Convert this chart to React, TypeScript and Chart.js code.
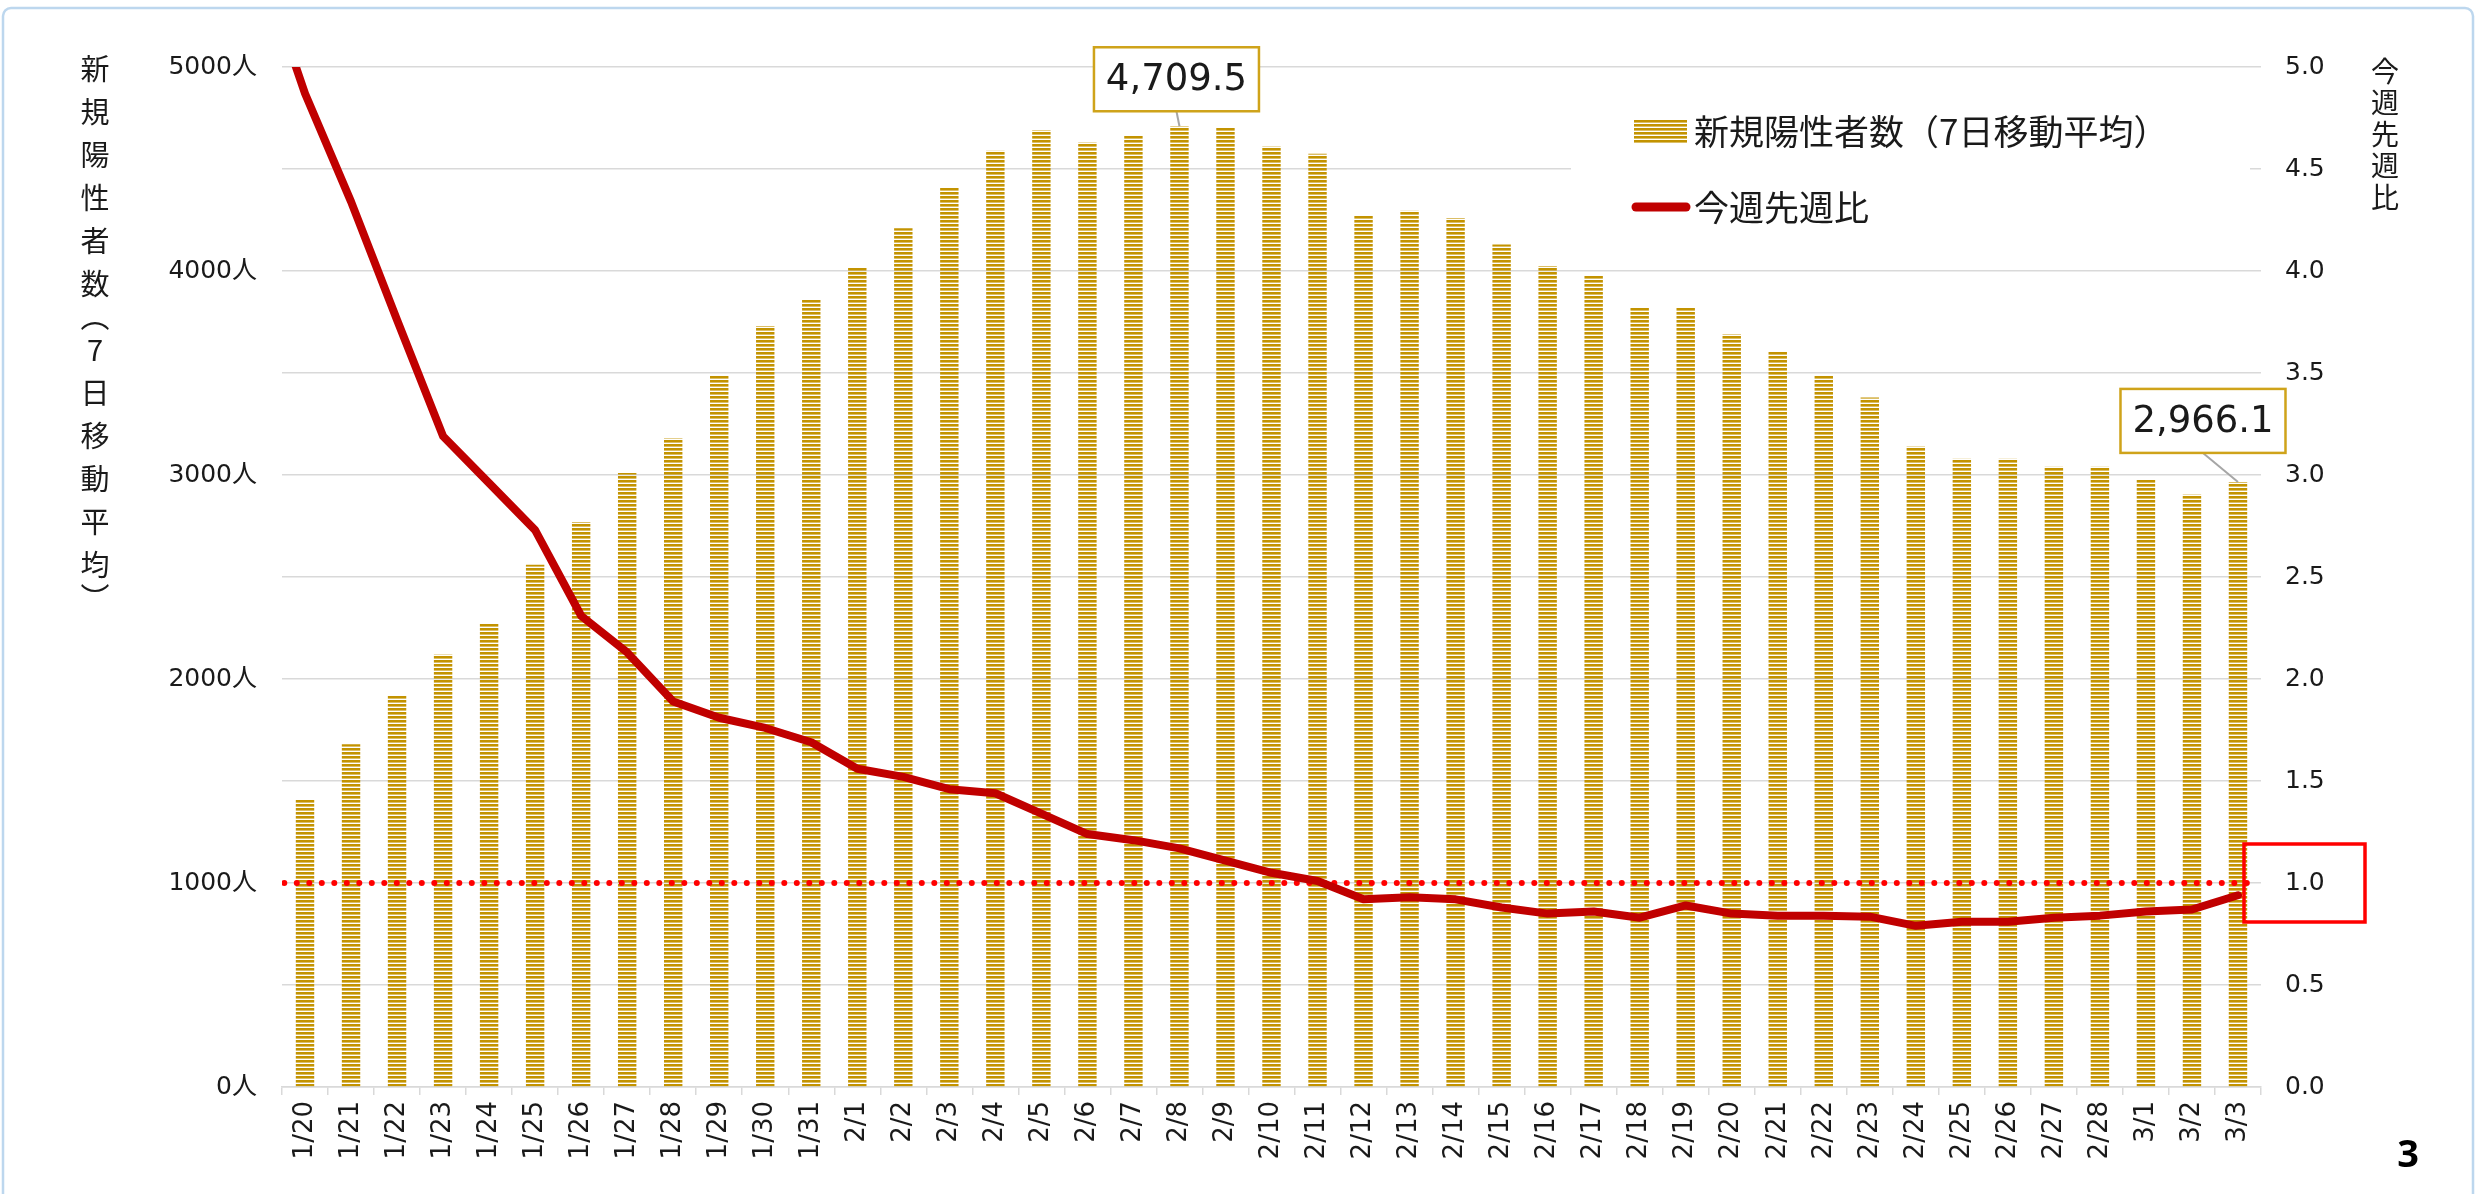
import React, { useEffect, useRef } from 'react';
import { Chart, registerables } from 'chart.js';

Chart.register(...registerables);

// ---- data ----
const dates = [
  '1/20', '1/21', '1/22', '1/23', '1/24', '1/25', '1/26', '1/27', '1/28', '1/29', '1/30', '1/31',
  '2/1', '2/2', '2/3', '2/4', '2/5', '2/6', '2/7', '2/8', '2/9', '2/10', '2/11', '2/12', '2/13', '2/14',
  '2/15', '2/16', '2/17', '2/18', '2/19', '2/20', '2/21', '2/22', '2/23', '2/24', '2/25', '2/26', '2/27', '2/28',
  '3/1', '3/2', '3/3',
];

// 新規陽性者数（7日移動平均）
const newCases = [
  1410, 1680, 1920, 2120, 2270, 2560, 2770, 3010, 3180, 3490, 3730, 3860,
  4020, 4210, 4410, 4590, 4690, 4630, 4665, 4709.5, 4705, 4610, 4575, 4270, 4295, 4260,
  4130, 4025, 3975, 3820, 3820, 3690, 3605, 3490, 3380, 3140, 3080, 3080, 3040, 3040,
  2975, 2905, 2966.1,
];

// 今週先週比
const weekRatio = [
  4.87, 4.34, 3.76, 3.19, 2.96, 2.73, 2.31, 2.13, 1.89, 1.81, 1.76, 1.69,
  1.56, 1.52, 1.46, 1.44, 1.34, 1.24, 1.21, 1.17, 1.11, 1.05, 1.01, 0.92, 0.93, 0.92,
  0.88, 0.85, 0.86, 0.83, 0.89, 0.85, 0.84, 0.84, 0.835, 0.79, 0.81, 0.81, 0.83, 0.84,
  0.86, 0.87, 0.94,
];

// ratio of the day before the first category (line enters the plot from above)
const ratioBeforeStart = 5.53;
const referenceRatio = 1.0;

const annotatedDates = ['2/8', '3/3'];

const leftAxisTitle = '新規陽性者数︵7日移動平均︶';
const rightAxisTitle = '今週先週比';
const legendBars = '新規陽性者数（7日移動平均）';
const legendLine = '今週先週比';
const pageNumber = '3';

const GOLD = '#C39300';
const LINE_RED = '#C00000';
const TEXT = '#1a1a1a';
const NUM_FONT = "'DejaVu Sans', 'Noto Sans CJK JP', sans-serif";
const CJK_FONT = "'Noto Sans CJK JP', sans-serif";

export default function App() {
  const ref = useRef<HTMLCanvasElement | null>(null);

  useEffect(() => {
    const canvas = ref.current;
    if (!canvas) return;
    const ctx0 = canvas.getContext('2d')!;

    const pc = document.createElement('canvas');
    pc.width = 4;
    pc.height = 4;
    const pctx = pc.getContext('2d')!;
    pctx.fillStyle = GOLD;
    pctx.fillRect(0, 0, 4, 2);
    pctx.fillStyle = 'rgba(195,147,0,0.6)';
    pctx.fillRect(0, 2, 4, 1);
    const pattern = ctx0.createPattern(pc, 'repeat')!;

    const ratioPoints = [
      { x: -1, y: ratioBeforeStart },
      ...weekRatio.map((v, i) => ({ x: i, y: v })),
    ];

    const decor = {
      id: 'decor',
      afterDraw(chart: any) {
        const ctx: CanvasRenderingContext2D = chart.ctx;
        const xs = chart.scales.x;
        const ys = chart.scales.y;
        const y1 = chart.scales.y1;
        const area = chart.chartArea;
        ctx.save();

        // legend
        ctx.fillStyle = '#ffffff';
        ctx.fillRect(1571, 92, 679, 150);
        ctx.fillStyle = pattern;
        ctx.fillRect(1634, 120, 53, 24);
        ctx.fillStyle = TEXT;
        ctx.font = `35px ${CJK_FONT}`;
        ctx.textAlign = 'left';
        ctx.textBaseline = 'middle';
        ctx.fillText(legendBars, 1694, 132);
        ctx.fillText(legendLine, 1694, 208);
        ctx.strokeStyle = LINE_RED;
        ctx.lineWidth = 9;
        ctx.lineCap = 'round';
        ctx.beginPath();
        ctx.moveTo(1636, 207);
        ctx.lineTo(1686, 207);
        ctx.stroke();

        // callouts
        const offsets = [
          { dx: -3, dy: -15 },
          { dx: -35, dy: -29 },
        ];
        annotatedDates.forEach((d, k) => {
          const i = dates.indexOf(d);
          const v = newCases[i];
          const px = xs.getPixelForValue(i);
          const py = ys.getPixelForValue(v);
          const bw = 165;
          const bh = 64;
          const cx = px + offsets[k].dx;
          const bottom = py + offsets[k].dy;
          ctx.strokeStyle = '#A6A6A6';
          ctx.lineWidth = 2;
          ctx.lineCap = 'butt';
          ctx.beginPath();
          ctx.moveTo(cx, bottom);
          ctx.lineTo(px, py);
          ctx.stroke();
          ctx.fillStyle = '#ffffff';
          ctx.fillRect(cx - bw / 2, bottom - bh, bw, bh);
          ctx.strokeStyle = '#CFA31A';
          ctx.lineWidth = 2.5;
          ctx.strokeRect(cx - bw / 2, bottom - bh, bw, bh);
          ctx.fillStyle = TEXT;
          ctx.font = `37px ${NUM_FONT}`;
          ctx.textAlign = 'center';
          ctx.textBaseline = 'middle';
          const txt = v.toLocaleString('en-US', { minimumFractionDigits: 1, maximumFractionDigits: 1 });
          ctx.fillText(txt, cx, bottom - bh / 2 + 1);
        });

        // left axis title (vertical)
        ctx.fillStyle = TEXT;
        ctx.font = `29px ${CJK_FONT}`;
        ctx.textAlign = 'center';
        ctx.textBaseline = 'middle';
        const isParen = (c: string) => c === '︵' || c === '︶';
        const chars = Array.from(leftAxisTitle);
        let ty = 69;
        chars.forEach((c, i) => {
          if (i > 0) ty += isParen(c) || isParen(chars[i - 1]) ? 33 : 43;
          ctx.fillText(c, 95, ty);
        });

        // right axis title (vertical)
        ctx.font = `28px ${CJK_FONT}`;
        Array.from(rightAxisTitle).forEach((c, i) => {
          ctx.fillText(c, 2385, 71 + i * 31.5);
        });

        // red box around 1.0
        const yRef = y1.getPixelForValue(referenceRatio);
        ctx.strokeStyle = '#FF0000';
        ctx.lineWidth = 3.5;
        ctx.strokeRect(area.right - 17, yRef - 39, 121, 78);

        // page number
        ctx.fillStyle = '#000';
        ctx.font = `bold 38px 'Noto Sans', sans-serif`;
        ctx.textAlign = 'center';
        ctx.fillText(pageNumber, 2408, 1156);

        // frame
        ctx.strokeStyle = '#BDD7EE';
        ctx.lineWidth = 2.5;
        ctx.beginPath();
        (ctx as any).roundRect(3, 8, 2470, 1200, 8);
        ctx.stroke();

        ctx.restore();
      },
    };

    const chart = new Chart(canvas, {
      type: 'bar',
      data: {
        labels: dates,
        datasets: [
          {
            type: 'line',
            label: legendLine,
            data: ratioPoints,
            xAxisID: 'xl',
            yAxisID: 'y1',
            borderColor: LINE_RED,
            borderWidth: 8,
            pointRadius: 0,
            tension: 0,
            borderJoinStyle: 'round',
            borderCapStyle: 'round',
            order: 0,
            clip: { left: 0, top: 0, right: 8, bottom: 8 },
          } as any,
          {
            type: 'line',
            label: 'ref',
            data: [
              { x: -0.45, y: referenceRatio },
              { x: dates.length - 0.55, y: referenceRatio },
            ],
            xAxisID: 'xl',
            yAxisID: 'y1',
            borderColor: '#FF0000',
            borderWidth: 6,
            borderDash: [0, 12.5],
            borderCapStyle: 'round',
            pointRadius: 0,
            order: 1,
          } as any,
          {
            type: 'bar',
            label: legendBars,
            data: newCases,
            xAxisID: 'x',
            yAxisID: 'y',
            backgroundColor: pattern,
            borderWidth: 0,
            grouped: false,
            barPercentage: 0.4,
            categoryPercentage: 1,
            order: 2,
          } as any,
        ],
      },
      options: {
        responsive: false,
        maintainAspectRatio: false,
        animation: false,
        devicePixelRatio: 1,
        layout: { padding: { top: 67, left: 0, right: 0, bottom: 0 } },
        plugins: {
          legend: { display: false },
          tooltip: { enabled: false },
        },
        scales: {
          x: {
            type: 'category',
            offset: true,
            grid: {
              offset: true,
              drawOnChartArea: false,
              drawTicks: true,
              tickLength: 8,
              color: '#d9d9d9',
              lineWidth: 1.5,
            },
            border: { display: true, color: '#d9d9d9', width: 1.5 },
            ticks: {
              autoSkip: false,
              minRotation: 90,
              maxRotation: 90,
              padding: 6,
              color: TEXT,
              font: { family: NUM_FONT, size: 26 },
            },
            afterFit: (s: any) => {
              s.height = 107;
            },
          },
          xl: {
            type: 'linear',
            display: false,
            min: -0.5,
            max: dates.length - 0.5,
            offset: false,
          },
          y: {
            position: 'left',
            min: 0,
            max: 5000,
            ticks: {
              stepSize: 500,
              padding: 25,
              color: TEXT,
              font: { family: NUM_FONT, size: 25 },
              callback: (v: any) => (Number(v) % 1000 === 0 ? `${v}人` : ''),
            },
            grid: { color: '#d9d9d9', lineWidth: 1.5, drawTicks: false },
            border: { display: false },
            afterFit: (s: any) => {
              s.width = 282;
            },
          },
          y1: {
            position: 'right',
            min: 0,
            max: 5,
            ticks: {
              stepSize: 0.5,
              padding: 24,
              color: TEXT,
              font: { family: NUM_FONT, size: 25 },
              callback: (v: any) => Number(v).toFixed(1),
            },
            grid: { display: false, drawTicks: false },
            border: { display: false },
            afterFit: (s: any) => {
              s.width = 215;
            },
          },
        },
      } as any,
      plugins: [decor],
    } as any);

    return () => chart.destroy();
  }, []);

  return (
    <div style={{ position: 'fixed', left: 0, top: 0, width: 2476, height: 1194, background: '#fff' }}>
      <canvas ref={ref} width={2476} height={1194} style={{ display: 'block', width: 2476, height: 1194 }} />
    </div>
  );
}
